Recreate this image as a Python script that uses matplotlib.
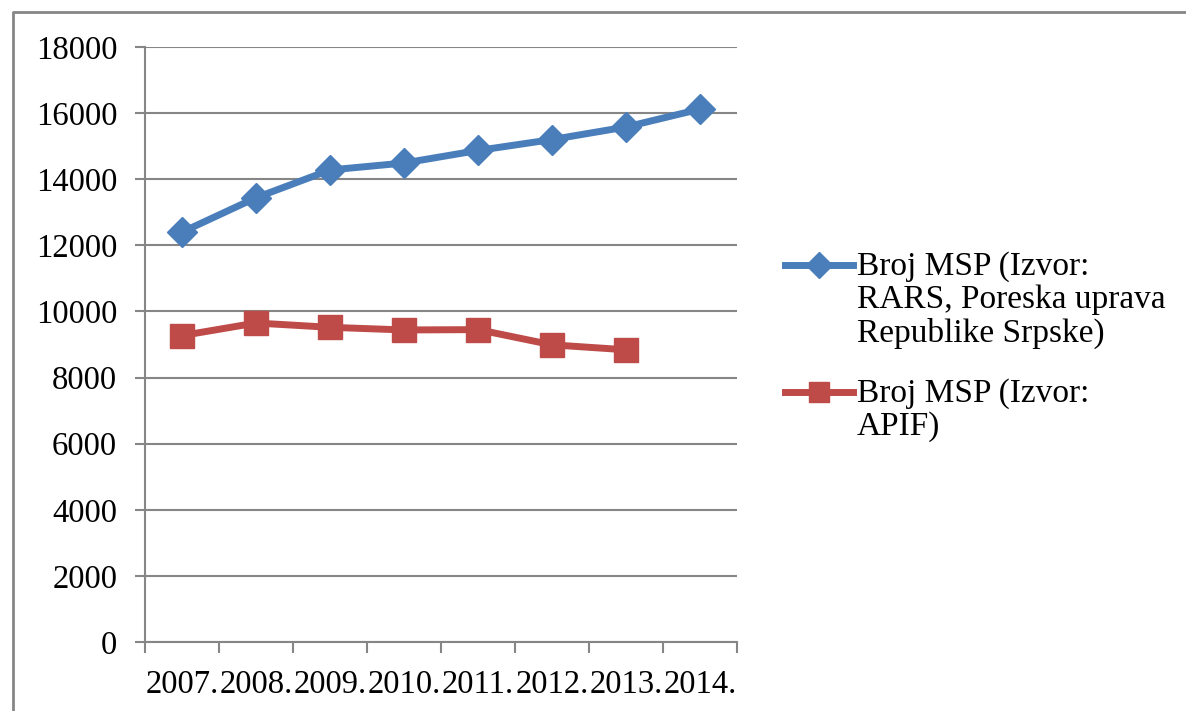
import matplotlib
matplotlib.use("Agg")
import matplotlib.pyplot as plt
from matplotlib.lines import Line2D
import numpy as np

plt.rcParams['font.family'] = ['Liberation Serif', 'DejaVu Serif']

years = ['2007.', '2008.', '2009.', '2010.', '2011.', '2012.', '2013.', '2014.']
msp_rars = [12400, 13440, 14280, 14490, 14870, 15200, 15580, 16120]
msp_apif = [9270, 9650, 9520, 9440, 9450, 8990, 8840]

label_rars = 'Broj MSP (Izvor:\nRARS, Poreska uprava\nRepublike Srpske)'
label_apif = 'Broj MSP (Izvor:\nAPIF)'

blue = '#4a7ebb'
red = '#be4b48'
grey = '#868686'

fig = plt.figure(figsize=(11.86, 7.11), dpi=100)
ax = fig.add_axes([145 / 1186, 1 - 642 / 711, 592 / 1186, 595 / 711])

x = np.arange(len(years))
ax.plot(x, msp_rars, color=blue, lw=5, marker='D', ms=15, zorder=3)
ax.plot(x[:len(msp_apif)], msp_apif, color=red, lw=5, marker='s', ms=17, zorder=3)

ax.set_xlim(-0.5, len(years) - 0.5)
ax.set_ylim(0, 18000)
ax.set_yticks(np.arange(0, 18001, 2000))
ax.set_xticks(x)
ax.set_xticklabels(years)
ax.set_xticks(np.arange(-0.5, len(years)), minor=True)
ax.tick_params(axis='x', which='major', length=0, pad=20, labelsize=23.5)
ax.tick_params(axis='x', which='minor', length=8, width=1.5, color=grey, direction='out')
ax.tick_params(axis='y', length=7, width=1.5, color=grey, pad=13, labelsize=23.5)

ax.grid(axis='y', color=grey, lw=1.5)
ax.set_axisbelow(True)
for side in ('top', 'right'):
    ax.spines[side].set_visible(False)
for side in ('left', 'bottom'):
    ax.spines[side].set_color(grey)
    ax.spines[side].set_linewidth(1.5)

# legend drawn by hand so the key sits beside the first text line
def key(y, color, marker, ms, text):
    yf = 1 - y / 711
    fig.add_artist(Line2D([785 / 1186, 853 / 1186], [yf, yf], color=color, lw=5,
                          transform=fig.transFigure))
    fig.add_artist(Line2D([819 / 1186], [yf], color=color, marker=marker, ms=ms,
                          transform=fig.transFigure))
    fig.text(857 / 1186, yf + 14 / 711, text, fontsize=24, va='top', ha='left',
             linespacing=1.12)

key(265, blue, 'D', 13, label_rars)
key(392, red, 's', 15, label_apif)

# outer frame (left and top edges)
fig.add_artist(Line2D([13 / 1186, 13 / 1186, 1.0], [0, 1 - 12 / 711, 1 - 12 / 711],
                      color=grey, lw=2, transform=fig.transFigure))

fig.savefig('out.png', dpi=100)
